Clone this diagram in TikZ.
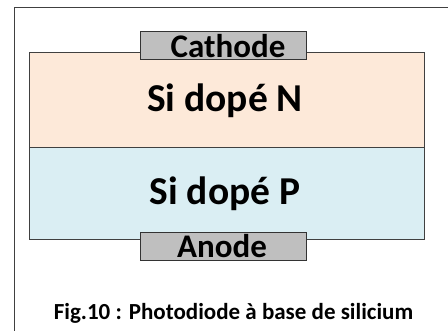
\documentclass[tikz,border=0pt]{standalone}
\usepackage{fontspec}
\setmainfont{Carlito}
\definecolor{frame}{HTML}{404040}
\definecolor{nfill}{HTML}{FDE9D9}
\definecolor{pfill}{HTML}{DAEEF3}
\definecolor{elfill}{HTML}{BFBFBF}
\tikzset{
  layer/.style={draw=frame, line width=0.9pt, inner sep=0pt, outer sep=0pt, anchor=north west},
  electrode/.style={draw=black!80, fill=elfill, line width=0.9pt, inner sep=0pt, outer sep=0pt, anchor=north west, minimum width=166pt, minimum height=28pt},
  lbl/.style={anchor=base, inner sep=0pt, font=\bfseries},
}
\begin{document}
\begin{tikzpicture}[x=1pt,y=-1pt]
\useasboundingbox (0,0) rectangle (448,331);
\fill[white] (0,0) rectangle (448,331);
\draw[frame, line width=1pt] (14,331) -- (14,8) -- (448,8);
\node[layer, fill=nfill, minimum width=395pt, minimum height=95pt] (n) at (29,52) {};
\node[layer, fill=pfill, minimum width=395pt, minimum height=92pt] (p) at (29,147) {};
\node[electrode] (cath) at (140,31) {};
\node[electrode] (an) at (140,232) {};
\node[lbl, font=\bfseries\fontsize{33}{38}\selectfont] (tc) at (228,58) {Cathode};
\node[lbl, font=\bfseries\fontsize{39.5}{46}\selectfont] (tn) at (225,112) {Si dopé N};
\node[lbl, font=\bfseries\fontsize{39.5}{46}\selectfont] (tp) at (225,205) {Si dopé P};
\node[lbl, font=\bfseries\fontsize{33}{38}\selectfont] (ta) at (222,258) {Anode};
\node[lbl, font=\bfseries\fontsize{23}{27}\selectfont] (cap) at (233.5,320) {Fig.10 : Photodiode à base de silicium};
\end{tikzpicture}
\end{document}
